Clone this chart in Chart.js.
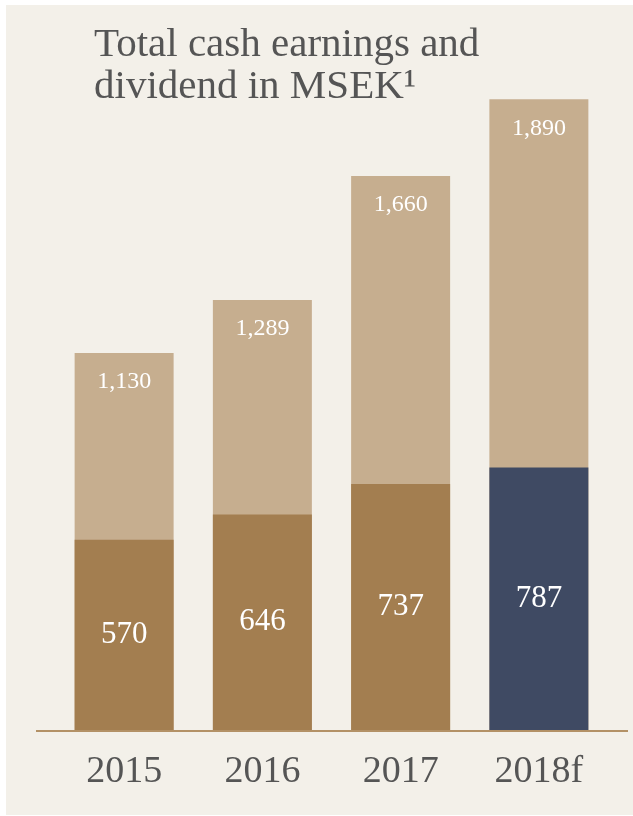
<!DOCTYPE html>
<html>
<head>
<meta charset="utf-8">
<script src="https://cdn.jsdelivr.net/npm/chart.js@4/dist/chart.umd.min.js"></script>
<style>
  html, body { margin: 0; padding: 0; background: #ffffff; }
  #wrap { position: relative; width: 633px; height: 816px; }
</style>
</head>
<body>
<div id="wrap"><canvas id="chartEarnings" width="633" height="816"></canvas></div>
<script>
var years = ['2015', '2016', '2017', '2018f'];
var totalEarnings = [1130, 1289, 1660, 1890];
var dividend = [570, 646, 737, 787];
var titleLines = ['Total cash earnings and', 'dividend in MSEK\u00b9'];

var serif = "'Liberation Serif', 'DejaVu Serif', serif";
var dividendColors = ['#a37e50', '#a37e50', '#a37e50', '#3f4a63'];

var panelPlugin = {
  id: 'panel',
  beforeDraw: function(chart){
    var ctx = chart.ctx;
    ctx.save();
    ctx.fillStyle = '#f3f0e9';
    ctx.fillRect(6, 5, 627, 810);
    ctx.fillStyle = '#555555';
    ctx.font = '41px ' + serif;
    ctx.textBaseline = 'alphabetic';
    ctx.textAlign = 'left';
    ctx.fillText(titleLines[0], 94, 56);
    ctx.fillText(titleLines[1], 94, 98);
    ctx.restore();
  },
  beforeDatasetsDraw: function(chart){
    var ctx = chart.ctx;
    var area = chart.chartArea;
    ctx.save();
    ctx.strokeStyle = '#b39166';
    ctx.lineWidth = 2;
    ctx.beginPath();
    ctx.moveTo(area.left - 19, area.bottom + 1);
    ctx.lineTo(area.right + 20, area.bottom + 1);
    ctx.stroke();
    ctx.restore();
  },
  afterDatasetsDraw: function(chart){
    var ctx = chart.ctx;
    ctx.save();
    ctx.fillStyle = '#ffffff';
    ctx.textAlign = 'center';
    ctx.textBaseline = 'middle';
    var divMeta = chart.getDatasetMeta(0);
    var totMeta = chart.getDatasetMeta(1);
    ctx.font = '31px ' + serif;
    divMeta.data.forEach(function(bar, i){
      ctx.fillText(String(dividend[i]), bar.x, (bar.y + bar.base) / 2);
    });
    ctx.font = '24px ' + serif;
    totMeta.data.forEach(function(bar, i){
      ctx.fillText(totalEarnings[i].toLocaleString('en-US'), bar.x, bar.y + 29);
    });
    ctx.restore();
  }
};

var ctx = document.getElementById('chartEarnings').getContext('2d');
var chartEarnings = new Chart(ctx, {
  type: 'bar',
  data: {
    labels: years,
    datasets: [
      {
        label: 'Dividend',
        data: dividend,
        backgroundColor: dividendColors,
        order: 0
      },
      {
        label: 'Total cash earnings',
        data: totalEarnings,
        backgroundColor: '#c6ae8f',
        order: 1
      }
    ]
  },
  options: {
    responsive: false,
    animation: false,
    layout: {
      padding: { left: 55, right: 25, top: 96, bottom: 26 }
    },
    datasets: {
      bar: {
        grouped: false,
        barPercentage: 1,
        categoryPercentage: 0.716,
        borderWidth: 0
      }
    },
    plugins: {
      legend: { display: false },
      title: { display: false },
      tooltip: { enabled: false }
    },
    scales: {
      x: {
        grid: { display: false, drawTicks: false },
        border: { display: false },
        ticks: {
          color: '#555555',
          padding: 19,
          font: { family: serif, size: 38 }
        },
        afterFit: function(scale){ scale.height = 60; }
      },
      y: {
        display: false,
        min: 0,
        max: 1900
      }
    }
  },
  plugins: [panelPlugin]
});
</script>
</body>
</html>
